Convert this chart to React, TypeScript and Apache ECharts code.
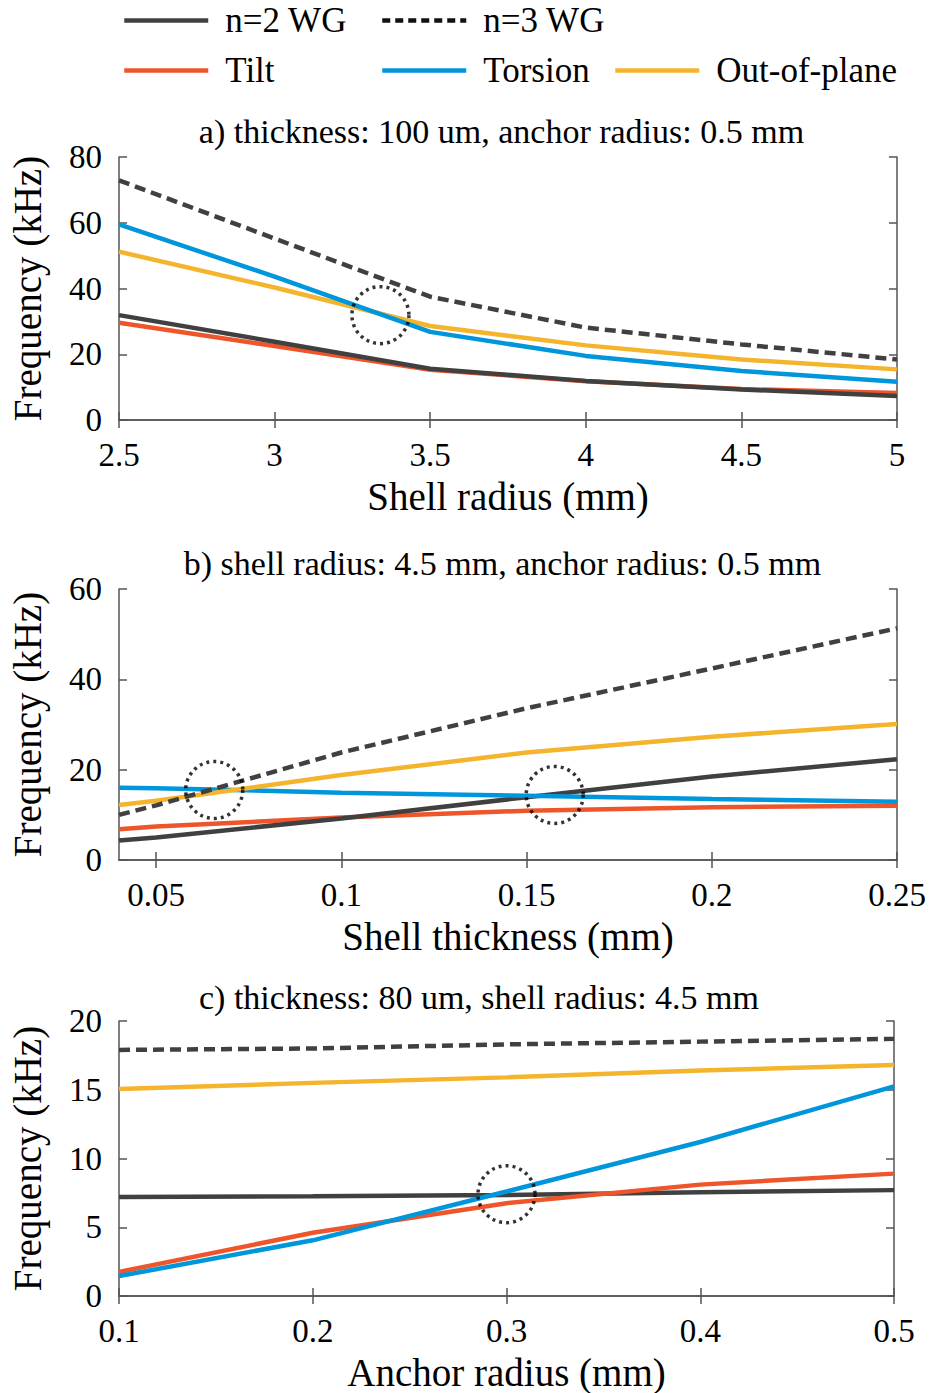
import React, { useEffect, useRef } from "react";
import * as echarts from "echarts";

// ---- data ----
const legendNames = ["n=2 WG", "n=3 WG", "Tilt", "Torsion", "Out-of-plane"];

const xA = [2.5, 3, 3.5, 4, 4.5, 5];
const aN2 = [31.9, 23.8, 15.6, 11.9, 9.3, 7.3];
const aN3 = [72.9, 55.2, 37.5, 28.1, 23.0, 18.4];
const aTilt = [29.6, 22.5, 15.3, 11.8, 9.4, 8.2];
const aTorsion = [59.5, 43.6, 26.8, 19.5, 14.9, 11.6];
const aOop = [51.2, 40.3, 28.6, 22.7, 18.4, 15.4];
const aCircles = [[3.34, 31.9]];

const xB = [0.04, 0.05, 0.1, 0.15, 0.2, 0.25];
const bN2 = [4.3, 5.0, 9.2, 13.9, 18.5, 22.3];
const bN3 = [10.0, 12.1, 23.8, 33.6, 42.4, 51.3];
const bTilt = [6.8, 7.4, 9.4, 10.9, 11.7, 12.0];
const bTorsion = [16.0, 15.9, 14.9, 14.2, 13.5, 12.9];
const bOop = [12.2, 13.1, 18.8, 23.8, 27.3, 30.1];
const bCircles = [[0.0657, 15.5], [0.1576, 14.4]];
const bTicks = [0.05, 0.1, 0.15, 0.2, 0.25];

const xC = [0.1, 0.2, 0.3, 0.4, 0.5];
const cN2 = [7.2, 7.25, 7.35, 7.55, 7.7];
const cN3 = [17.9, 18.0, 18.3, 18.5, 18.7];
const cTilt = [1.75, 4.6, 6.75, 8.1, 8.9];
const cTorsion = [1.45, 4.05, 7.6, 11.2, 15.25];
const cOop = [15.05, 15.5, 15.9, 16.4, 16.8];
const cCircles = [[0.3, 7.4]];

const titles = [
  "a) thickness: 100 um, anchor radius: 0.5 mm",
  "b) shell radius: 4.5 mm, anchor radius: 0.5 mm",
  "c) thickness: 80 um, shell radius: 4.5 mm",
];
const xNames = ["Shell radius (mm)", "Shell thickness (mm)", "Anchor radius (mm)"];
const yName = "Frequency (kHz)";

// ---- styles ----
const FONT = '"Liberation Serif", "Times New Roman", serif';
const C_DARK = "#404040";
const C_RED = "#EE552B";
const C_BLUE = "#0096DB";
const C_YEL = "#F4B42C";
const C_AXIS = "#555555";

const zip = (xs: number[], ys: number[]) => xs.map((x, i) => [x, ys[i]]);

export default function App() {
  const ref = useRef<HTMLDivElement>(null);
  useEffect(() => {
    document.body.style.margin = "0";
    const chart = echarts.init(ref.current!, null, { renderer: "svg" });

    const grids = [
      { left: 119, top: 157, width: 778, height: 263 },
      { left: 119, top: 589, width: 778, height: 271 },
      { left: 119, top: 1021, width: 775, height: 279 },
    ];
    const xRanges = [
      { min: 2.5, max: 5, interval: 0.5 },
      { min: 0.04, max: 0.25 },
      { min: 0.1, max: 0.5, interval: 0.1 },
    ];
    const yRanges = [
      { min: 0, max: 80, interval: 20 },
      { min: 0, max: 60, interval: 20 },
      { min: 0, max: 20, interval: 5 },
    ];

    const axisLine = { show: true, lineStyle: { color: C_AXIS, width: 1.5 } };
    const xAxis: any[] = [];
    const yAxis: any[] = [];
    for (let i = 0; i < 3; i++) {
      const tickCustom = i === 1 ? { customValues: bTicks } : {};
      xAxis.push({
        type: "value",
        gridIndex: i,
        position: "bottom",
        ...xRanges[i],
        axisLine,
        axisTick: { inside: true, length: 8, lineStyle: { color: C_AXIS, width: 1.5 }, ...tickCustom },
        axisLabel: {
          color: "#000",
          fontFamily: FONT,
          fontSize: 33,
          margin: 18,
          showMinLabel: true,
          showMaxLabel: true,
          hideOverlap: false,
          ...tickCustom,
        },
        splitLine: { show: false },
        name: xNames[i],
        nameLocation: "middle",
        nameGap: 57,
        nameTextStyle: { color: "#000", fontFamily: FONT, fontSize: 39 },
      });
      xAxis.push({
        type: "value",
        gridIndex: i,
        position: "top",
        ...xRanges[i],
        axisLine,
        axisTick: { inside: true, length: 8, lineStyle: { color: C_AXIS, width: 1.5 }, ...tickCustom },
        axisLabel: { show: false, ...tickCustom },
        splitLine: { show: false },
      });
      yAxis.push({
        type: "value",
        gridIndex: i,
        position: "left",
        ...yRanges[i],
        axisLine,
        axisTick: { inside: true, length: 8, lineStyle: { color: C_AXIS, width: 1.5 } },
        axisLabel: {
          color: "#000",
          fontFamily: FONT,
          fontSize: 33,
          margin: 17,
          showMinLabel: true,
          showMaxLabel: true,
        },
        splitLine: { show: false },
        name: yName,
        nameLocation: "middle",
        nameGap: 72,
        nameTextStyle: { color: "#000", fontFamily: FONT, fontSize: 39 },
      });
      yAxis.push({
        type: "value",
        gridIndex: i,
        position: "right",
        ...yRanges[i],
        axisLine,
        axisTick: { inside: true, length: 8, lineStyle: { color: C_AXIS, width: 1.5 } },
        axisLabel: { show: false },
        splitLine: { show: false },
      });
    }

    const plotData = [
      { x: xA, s: [aN2, aN3, aTilt, aTorsion, aOop], circles: aCircles },
      { x: xB, s: [bN2, bN3, bTilt, bTorsion, bOop], circles: bCircles },
      { x: xC, s: [cN2, cN3, cTilt, cTorsion, cOop], circles: cCircles },
    ];
    const colors = [C_DARK, C_DARK, C_RED, C_BLUE, C_YEL];
    const types: any[] = ["solid", [11, 6], "solid", "solid", "solid"];
    const zOrder = [[4, 5, 3, 2, 1], [2, 5, 1, 3, 4], [2, 5, 3, 4, 1]];

    const series: any[] = [];
    plotData.forEach((p, i) => {
      p.s.forEach((ys, k) => {
        series.push({
          type: "line",
          name: legendNames[k],
          xAxisIndex: i * 2,
          yAxisIndex: i * 2,
          data: zip(p.x, ys),
          symbol: "none",
          z: 2 + zOrder[i][k] / 10,
          lineStyle: { color: colors[k], width: 4.5, type: types[k] },
          itemStyle: { color: colors[k] },
        });
      });
      series.push({
        type: "scatter",
        name: "marker" + i,
        xAxisIndex: i * 2,
        yAxisIndex: i * 2,
        data: p.circles,
        symbol: "circle",
        symbolSize: 57,
        z: 4,
        silent: true,
        itemStyle: {
          color: "rgba(0,0,0,0)",
          borderColor: "#000",
          borderWidth: 3.5,
          borderType: [3, 4],
        },
      });
    });

    const legendPos = [
      { left: 122, top: 3 },
      { left: 380, top: 3 },
      { left: 122, top: 53 },
      { left: 380, top: 53 },
      { left: 613, top: 53 },
    ];
    const legendDash: any[] = ["solid", [8, 5], "solid", "solid", "solid"];
    const legendColor = [C_DARK, "#111", C_RED, C_BLUE, C_YEL];
    const legend = legendNames.map((n, k) => ({
      data: [n],
      left: legendPos[k].left,
      top: legendPos[k].top,
      padding: 0,
      itemWidth: 84,
      itemHeight: 14,
      selectedMode: false,
      itemStyle: { opacity: 0 },
      lineStyle: { width: 4.5, type: legendDash[k], color: legendColor[k] },
      textStyle: { color: "#000", fontFamily: FONT, fontSize: 35, lineHeight: 34, padding: [0, 0, 0, 12] },
    }));

    const titleCenters = [
      { x: 501.5, y: 131 },
      { x: 502.5, y: 563 },
      { x: 479, y: 997 },
    ];
    const graphic = titles.map((t, i) => ({
      type: "text",
      x: titleCenters[i].x,
      y: titleCenters[i].y,
      style: {
        text: t,
        fill: "#000",
        font: `34px ${FONT}`,
        align: "center",
        verticalAlign: "middle",
      },
    }));

    chart.setOption({
      animation: false,
      backgroundColor: "#fff",
      textStyle: { fontFamily: FONT },
      grid: grids,
      xAxis,
      yAxis,
      series,
      legend,
      graphic,
    });
    return () => chart.dispose();
  }, []);
  return <div ref={ref} style={{ width: 930, height: 1393 }} />;
}
